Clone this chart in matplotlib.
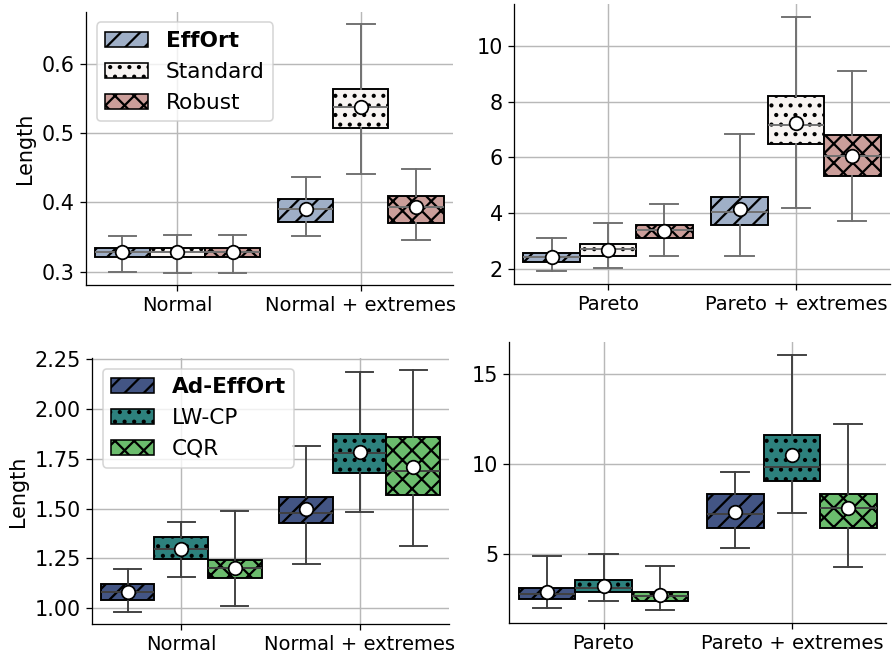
import matplotlib.pyplot as plt
from matplotlib.patches import Patch
from matplotlib.ticker import FormatStrFormatter

# box summaries: (whisker low, q1, median, q3, whisker high, mean), one row per scenario
normal_cats = ["Normal", "Normal + extremes"]
pareto_cats = ["Pareto", "Pareto + extremes"]

top_methods = ["EffOrt", "Standard", "Robust"]
bottom_methods = ["Ad-EffOrt", "LW-CP", "CQR"]

normal_effort   = [(0.300, 0.321, 0.328, 0.335, 0.352, 0.328), (0.352, 0.372, 0.391, 0.405, 0.437, 0.391)]
normal_standard = [(0.299, 0.321, 0.328, 0.335, 0.353, 0.328), (0.441, 0.507, 0.537, 0.564, 0.657, 0.538)]
normal_robust   = [(0.299, 0.321, 0.328, 0.335, 0.353, 0.329), (0.346, 0.371, 0.394, 0.410, 0.448, 0.394)]

pareto_effort   = [(1.93, 2.25, 2.43, 2.59, 3.13, 2.43), (2.49, 3.58, 4.04, 4.57, 6.83, 4.16)]
pareto_standard = [(2.04, 2.48, 2.72, 2.89, 3.65, 2.70), (4.18, 6.49, 7.17, 8.19, 11.03, 7.22)]
pareto_robust   = [(2.49, 3.12, 3.41, 3.57, 4.33, 3.38), (3.74, 5.35, 6.07, 6.81, 9.10, 6.07)]

normal_ad_effort = [(0.982, 1.043, 1.084, 1.120, 1.197, 1.080), (1.222, 1.429, 1.480, 1.558, 1.812, 1.496)]
normal_lwcp      = [(1.155, 1.246, 1.296, 1.358, 1.433, 1.299), (1.483, 1.677, 1.780, 1.872, 2.185, 1.785)]
normal_cqr       = [(1.010, 1.154, 1.200, 1.242, 1.486, 1.204), (1.311, 1.567, 1.689, 1.859, 2.195, 1.707)]

pareto_ad_effort = [(2.01, 2.50, 2.79, 3.13, 4.89, 2.89), (5.35, 6.47, 7.25, 8.36, 9.60, 7.38)]
pareto_lwcp      = [(2.44, 2.89, 3.16, 3.59, 5.00, 3.26), (7.30, 9.08, 9.84, 11.66, 16.09, 10.51)]
pareto_cqr       = [(1.92, 2.42, 2.70, 2.92, 4.37, 2.74), (4.30, 6.48, 7.56, 8.34, 12.27, 7.56)]

top_colors = ["#9fafc7", "#f8f4f2", "#cb9e9a"]
bottom_colors = ["#435584", "#2d817d", "#6bbc6d"]
hatches = ["//", "..", "xx"]

DPI = 115
plt.rcParams["hatch.linewidth"] = 1.4


def draw_panel(ax, cats, series, colors, line_color):
    w = 0.3
    n = len(series)
    for i, (rows, c, h) in enumerate(zip(series, colors, hatches)):
        stats = [dict(whislo=r[0], q1=r[1], med=r[2], q3=r[3], whishi=r[4], mean=r[5], fliers=[])
                 for r in rows]
        pos = [k + (i - (n - 1) / 2) * w for k in range(len(cats))]
        ax.bxp(stats, positions=pos, widths=w, patch_artist=True, showmeans=True,
               manage_ticks=False,
               boxprops=dict(facecolor=c, edgecolor="black", hatch=h, linewidth=1.2),
               whiskerprops=dict(color=line_color, linewidth=1.2),
               capprops=dict(color=line_color, linewidth=1.2),
               medianprops=dict(color=line_color, linewidth=1.2),
               meanprops=dict(marker="o", markerfacecolor="white", markeredgecolor="black",
                              markersize=8.5, markeredgewidth=1.1))
    ax.set_xticks(range(len(cats)), cats, fontsize=12.2)
    ax.set_xlim(-0.5, len(cats) - 0.5)
    ax.tick_params(axis="y", labelsize=13)
    ax.grid(True, color="#b8b8b8", linewidth=0.9)
    ax.set_axisbelow(True)
    for side in ("top", "right"):
        ax.spines[side].set_visible(False)


def add_legend(ax, names, colors):
    handles = [Patch(facecolor=c, edgecolor="black", hatch=h, label=n)
               for n, c, h in zip(names, colors, hatches)]
    leg = ax.legend(handles=handles, loc="upper left", fontsize=13.5,
                    handlelength=2.0, handleheight=0.7)
    leg.get_texts()[0].set_fontweight("bold")


fig = plt.figure(figsize=(892 / DPI, 654 / DPI), dpi=DPI)
ax_tl = fig.add_axes([0.0961, 0.5642, 0.4114, 0.4179])
ax_tr = fig.add_axes([0.5762, 0.5657, 0.4215, 0.4281])
ax_bl = fig.add_axes([0.1031, 0.0459, 0.4002, 0.4067])
ax_br = fig.add_axes([0.5710, 0.0479, 0.4223, 0.4292])

draw_panel(ax_tl, normal_cats, [normal_effort, normal_standard, normal_robust], top_colors, "#707070")
draw_panel(ax_tr, pareto_cats, [pareto_effort, pareto_standard, pareto_robust], top_colors, "#707070")
draw_panel(ax_bl, normal_cats, [normal_ad_effort, normal_lwcp, normal_cqr], bottom_colors, "#404040")
draw_panel(ax_br, pareto_cats, [pareto_ad_effort, pareto_lwcp, pareto_cqr], bottom_colors, "#404040")

ax_tl.set_yticks([0.3, 0.4, 0.5, 0.6])
ax_tl.yaxis.set_major_formatter(FormatStrFormatter("%.1f"))
ax_tr.set_yticks([2, 4, 6, 8, 10])
ax_bl.set_yticks([1.0, 1.25, 1.5, 1.75, 2.0, 2.25])
ax_bl.yaxis.set_major_formatter(FormatStrFormatter("%.2f"))
ax_br.set_yticks([5, 10, 15])

ax_tl.set_ylabel("Length", fontsize=13)
ax_bl.set_ylabel("Length", fontsize=13)

add_legend(ax_tl, top_methods, top_colors)
add_legend(ax_bl, bottom_methods, bottom_colors)

fig.savefig("out.png", dpi=DPI)
